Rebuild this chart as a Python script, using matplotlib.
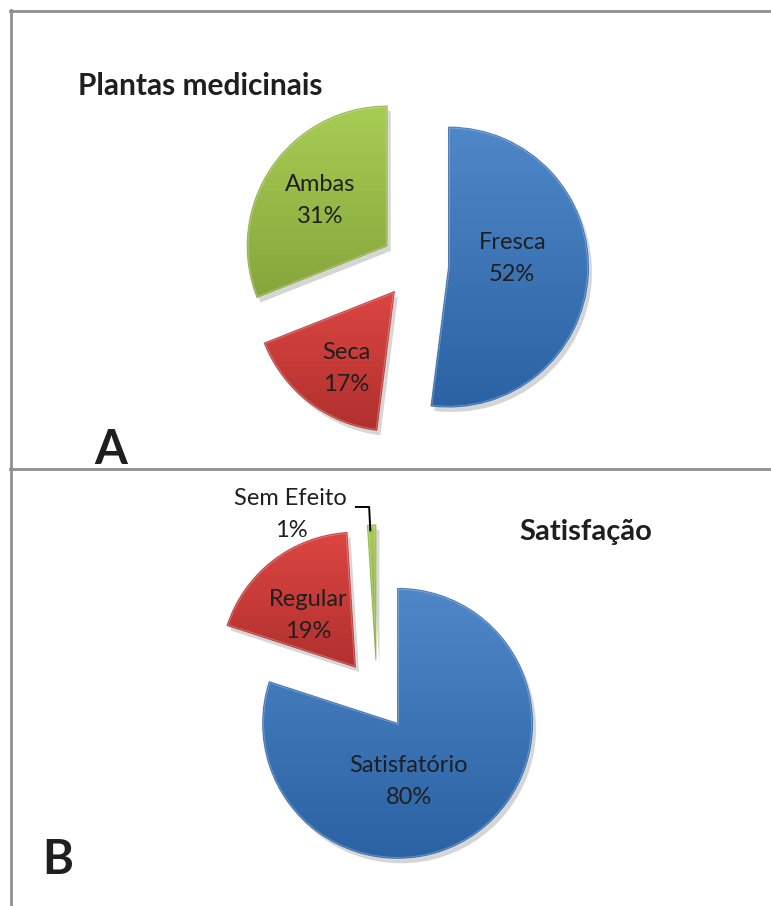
import numpy as np
import matplotlib
matplotlib.use("Agg")
import matplotlib.pyplot as plt
from matplotlib.colors import LinearSegmentedColormap
from matplotlib.patches import PathPatch
from matplotlib.lines import Line2D
import matplotlib.patheffects as pe

plt.rcParams['font.family'] = ['Lato', 'DejaVu Sans']

# ---------------- data ----------------
labels_a = ["Fresca", "Seca", "Ambas"]
values_a = [52, 17, 31]
title_a = "Plantas medicinais"

labels_b = ["Satisfatório", "Regular", "Sem Efeito"]
values_b = [80, 19, 1]
title_b = "Satisfação"

# ---------------- style ----------------
W, H = 771, 906
BLUE = ("#4F87C9", "#2A62A4")
RED = ("#DC4642", "#B0302E")
GREEN = ("#A8CD53", "#86A53C")
TXT = "#1f1f1f"
LBL_FS = 17
LBL_LS = 1.65

fig = plt.figure(figsize=(W / 100, H / 100), dpi=100)
fig.patch.set_facecolor("white")


def fx(x):
    return x / W


def fy(y):
    return 1 - y / H


# frame lines
gray = "#8f8f8f"
fig.add_artist(Line2D([fx(10), fx(771)], [fy(10.5), fy(10.5)], color=gray, lw=2.0))
fig.add_artist(Line2D([fx(10.5), fx(10.5)], [fy(10), fy(906)], color=gray, lw=2.0))
fig.add_artist(Line2D([fx(10), fx(771)], [fy(469), fy(469)], color=gray, lw=2.0))


def make_pie(cx, cy, rpx, values, colors, explode):
    half = 200
    ax = fig.add_axes([fx(cx - half), fy(cy + half), 2 * half / W, 2 * half / H])
    lim = half / rpx
    wedges, _ = ax.pie(values, explode=[explode] * len(values), startangle=90,
                       counterclock=False, radius=1,
                       colors=[c[0] for c in colors],
                       wedgeprops=dict(linewidth=0, zorder=1))
    for w, c in zip(wedges, colors):
        w.set_path_effects([pe.SimplePatchShadow(offset=(2.5, -3.5), shadow_rgbFace="#777777", alpha=0.3),
                            pe.Normal()])
        ext = w.get_path().get_extents()
        cmap = LinearSegmentedColormap.from_list("g", [c[1], c[0]])
        grad = np.linspace(0, 1, 256).reshape(-1, 1)
        im = ax.imshow(grad, extent=[ext.x0, ext.x1, ext.y0, ext.y1], origin="lower",
                       cmap=cmap, aspect="auto", zorder=2, interpolation="bilinear")
        im.set_clip_path(w)
        # bevel-like edges
        ax.add_patch(PathPatch(w.get_path(), fill=False, edgecolor="white", alpha=0.3,
                               lw=2.0, zorder=3, joinstyle="round"))
        ax.add_patch(PathPatch(w.get_path(), fill=False, edgecolor=c[1], alpha=0.7,
                               lw=0.8, zorder=4, joinstyle="round"))
    ax.set_xlim(-lim, lim)
    ax.set_ylim(-lim, lim)
    ax.set_aspect("equal")
    ax.axis("off")
    return ax, wedges


def label_at(ax, w, text, frac, ang):
    a = np.deg2rad(ang)
    x = w.center[0] + frac * w.r * np.cos(a)
    y = w.center[1] + frac * w.r * np.sin(a)
    ax.text(x, y, text, ha="center", va="center", fontsize=LBL_FS, color=TXT,
            linespacing=LBL_LS, zorder=10)


# ---------------- panel A ----------------
axA, wA = make_pie(415, 265, 140, values_a, [BLUE, RED, GREEN], 0.24)
posA = [(0.46, 8), (0.65, -122), (0.58, 146)]
for w, lab, v, (fr, an) in zip(wA, labels_a, values_a, posA):
    label_at(axA, w, f"{lab}\n{v}%", fr, an)

fig.text(fx(200), fy(86), title_a, ha="center", va="center", fontsize=21.5,
         fontweight="bold", color=TXT)
fig.text(fx(111), fy(450), "A", ha="center", va="center", fontsize=34,
         fontweight="bold", color=TXT)

# ---------------- panel B ----------------
axB, wB = make_pie(377, 695, 135, values_b, [BLUE, RED, GREEN], 0.26)
posB = [(0.44, -79), (0.52, 132)]
for w, lab, v, (fr, an) in zip(wB[:2], labels_b[:2], values_b[:2], posB):
    label_at(axB, w, f"{lab}\n{v}%", fr, an)

# small slice label with leader line
ws = wB[2]
mid = np.deg2rad((ws.theta1 + ws.theta2) / 2)
tip = (ws.center[0] + ws.r * np.cos(mid), ws.center[1] + ws.r * np.sin(mid))
ax_c = ws.center
lx, ly = ax_c[0] - 0.63, ax_c[1] + 1.08
axB.text(lx, ly, f"{labels_b[2]}\n{values_b[2]}%", ha="center", va="center",
         fontsize=LBL_FS, color=TXT, linespacing=LBL_LS, zorder=10)
axB.plot([ax_c[0] - 0.148, ax_c[0] - 0.05, tip[0] - 0.01],
         [ax_c[1] + 1.133, ax_c[1] + 1.133, tip[1] - 0.04],
         color="black", lw=1.4, zorder=9, solid_joinstyle="round")

fig.text(fx(586), fy(532), title_b, ha="center", va="center", fontsize=21,
         fontweight="bold", color=TXT)
fig.text(fx(58), fy(860), "B", ha="center", va="center", fontsize=34,
         fontweight="bold", color=TXT)

fig.savefig("out.png", dpi=100)
